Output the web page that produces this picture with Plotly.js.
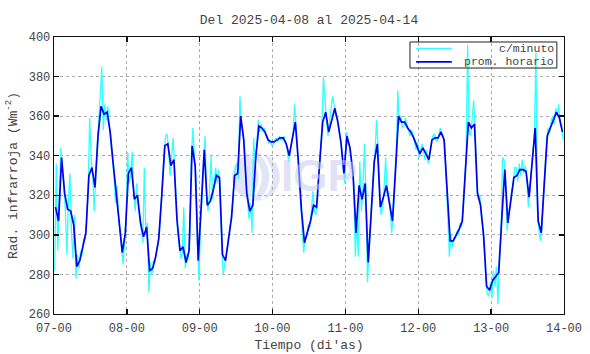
<!DOCTYPE html>
<html><head><meta charset="utf-8">
<script src="https://cdn.plot.ly/plotly-3.0.1.min.js"></script>
<style>html,body{margin:0;padding:0;background:#fff}#chart{width:590px;height:354px}</style>
</head><body><div id="chart"></div>
<script>
const dayTickLabels = ['07-00','08-00','09-00','10-00','11-00','12-00','13-00','14-00'];
const seriesNames = ['c/minuto', 'prom. horario'];

// hourly mean (prom. horario), W m^-2, from 2025-04-07 00h
const hourlyMean = [
 314,307,339,321,313,312,305,284,287,294,301,330,334,324,350,365,361,362,352,336,320,305,291,301,
 331,334,318,320,306,299,304,282,283,289,298,320,345,346,335,338,308,292,294,286,292,345,335,287,
 312,343,315,317,323,330,329,290,287,298,309,330,331,360,348,321,312,315,340,355,354,352,348,347,
 347,348,349,349,346,340,348,357,337,313,296,302,307,315,314,336,357,362,352,358,364,357,347,331,
 350,344,331,301,325,318,326,286,312,337,346,314,319,325,316,307,333,360,357,357,354,352,349,345,
 341,344,341,338,348,349,349,352,348,321,297,297,300,303,307,333,357,354,356,321,315,300,274,272,
 277,279,281,308,333,306,318,329,330,333,333,332,319,337,354,307,301,326,350,354,358,362,359,352
];

// per-minute record (c/minuto), sampled twice per hour
const minuteSample = [
 282,336,292,318,344,332,326,312,290,318,331,302,288,310,278,290,283,292,290,298,298,306,322,359,
 338,330,312,330,345,358,372,385,353,366,358,365,355,346,340,330,316,325,310,300,294,285,296,308,
 342,326,330,342,322,312,326,314,310,302,296,334,300,306,271,286,280,287,286,292,295,302,316,328,
 340,350,351,342,330,340,349,334,318,300,296,288,290,314,283,290,288,300,340,354,340,330,296,277,
 305,318,338,350,320,312,322,340,318,328,334,326,333,324,294,280,284,290,295,302,306,314,326,334,
 336,328,370,356,352,344,326,316,308,316,301,349,336,344,358,352,356,352,354,350,350,346,348,345,
 346,348,349,347,350,348,348,350,347,344,337,342,346,351,366,354,342,332,318,306,291,298,299,305,
 304,311,322,312,310,318,332,340,354,380,366,358,350,356,362,370,366,360,360,354,350,344,335,326,
 352,346,346,340,334,326,289,306,289,337,312,322,346,322,276,292,306,318,332,342,358,344,320,310,
 314,324,339,320,322,312,301,310,328,340,373,356,360,354,355,359,356,352,350,353,351,347,343,347,
 339,343,346,342,338,343,336,340,346,350,351,348,347,351,354,350,350,345,326,316,289,300,294,299,
 298,302,300,306,304,312,328,340,396,352,350,358,368,352,326,318,320,310,304,296,278,270,269,276,
 268,282,274,284,265,290,300,339,338,328,302,312,314,322,326,334,334,327,336,330,338,331,335,329,
 314,324,333,342,350,392,312,302,297,304,320,332,347,354,352,357,360,356,364,360,366,356,354,348
];

const hourX = hourlyMean.map((_, i) => i + 0.5);
const minuteX = minuteSample.map((_, k) => k * 0.5 + 0.25);
const tickVals = dayTickLabels.map((_, d) => d * 24);

const FONT = "'Liberation Mono', 'Courier New', monospace";
const TXT = '#444';
const CYAN = '#33ffff', BLUE = '#0000f0';

const traces = [
  {x: minuteX, y: minuteSample, type: 'scatter', mode: 'lines',
   name: seriesNames[0], line: {color: CYAN, width: 1.3}},
  {x: hourX, y: hourlyMean, type: 'scatter', mode: 'lines',
   name: seriesNames[1], line: {color: BLUE, width: 1.7}}
];

const axisCommon = {
  showline: true, linecolor: '#111', linewidth: 1.3, mirror: 'ticks',
  ticks: 'inside', ticklen: 5, tickcolor: '#111', tickwidth: 1.3,
  showgrid: true, gridcolor: '#aaaaaa', griddash: 'dot', gridwidth: 1,
  zeroline: false, tickfont: {family: FONT, size: 12, color: TXT}
};

// watermark globe (paper coords)
const gc = {x: 0.396, y: 0.495, rx: 0.047, ry: 0.0866};
function arc(k) {
  const x0 = gc.x + k * gc.rx, top = gc.y + gc.ry * 0.93, bot = gc.y - gc.ry * 0.93;
  return `M ${x0},${top} Q ${gc.x + (k + 0.75) * gc.rx},${gc.y} ${x0},${bot}`;
}

// legend box drawn as chrome (pixel-matched to the reference)
const lg = {x0: 0.698, x1: 0.986, y0: 0.888, y1: 0.982, sx0: 0.710, sx1: 0.780, tx: 0.982, r1: 0.9585, r2: 0.910};

const layout = {
  width: 590, height: 354,
  margin: {l: 54, r: 26, t: 37, b: 40},
  paper_bgcolor: '#fff', plot_bgcolor: '#fff',
  font: {family: FONT, size: 12, color: TXT},
  showlegend: false,
  title: {text: 'Del 2025-04-08 al 2025-04-14', font: {family: FONT, size: 13, color: TXT},
          x: 0.5, xref: 'paper', xanchor: 'center', y: 0.946, yref: 'container', yanchor: 'middle'},
  xaxis: Object.assign({}, axisCommon, {
    range: [0, 168], tickmode: 'array', tickvals: tickVals, ticktext: dayTickLabels,
    ticklabelstandoff: 2,
    title: {text: "Tiempo (di'as)", font: {family: FONT, size: 13, color: TXT}, standoff: 5}
  }),
  yaxis: Object.assign({}, axisCommon, {
    range: [260, 400], dtick: 20, tick0: 260,
    title: {text: 'Rad. infrarroja (Wm<sup>-2</sup>)', font: {family: FONT, size: 13, color: TXT}, standoff: 8}
  }),
  shapes: [
    {type: 'circle', xref: 'paper', yref: 'paper', layer: 'below',
     x0: gc.x - gc.rx, x1: gc.x + gc.rx, y0: gc.y - gc.ry, y1: gc.y + gc.ry,
     fillcolor: '#e2e5f7', line: {width: 0}},
    {type: 'path', xref: 'paper', yref: 'paper', layer: 'below', path: arc(-0.2), line: {color: '#ffffff', width: 3}},
    {type: 'path', xref: 'paper', yref: 'paper', layer: 'below', path: arc(0.25), line: {color: '#ffffff', width: 3}},
    {type: 'rect', xref: 'paper', yref: 'paper', x0: lg.x0, x1: lg.x1, y0: lg.y0, y1: lg.y1,
     line: {color: '#222', width: 1}, fillcolor: 'rgba(0,0,0,0)'},
    {type: 'line', xref: 'paper', yref: 'paper', x0: lg.sx0, x1: lg.sx1, y0: lg.r1, y1: lg.r1,
     line: {color: CYAN, width: 1.3}},
    {type: 'line', xref: 'paper', yref: 'paper', x0: lg.sx0, x1: lg.sx1, y0: lg.r2, y1: lg.r2,
     line: {color: BLUE, width: 1.7}}
  ],
  annotations: [
    {text: '<b>IGP</b>', xref: 'paper', yref: 'paper', x: 0.52, y: 0.5,
     xanchor: 'center', yanchor: 'middle', showarrow: false,
     font: {family: "'Liberation Sans', Arial, sans-serif", size: 44, color: 'rgba(200,200,242,0.55)'}},
    {text: seriesNames[0], xref: 'paper', yref: 'paper', x: lg.tx, y: lg.r1,
     xanchor: 'right', yanchor: 'middle', showarrow: false, borderpad: 0,
     font: {family: FONT, size: 11.5, color: TXT}},
    {text: seriesNames[1], xref: 'paper', yref: 'paper', x: lg.tx, y: lg.r2,
     xanchor: 'right', yanchor: 'middle', showarrow: false, borderpad: 0,
     font: {family: FONT, size: 11.5, color: TXT}}
  ]
};

Plotly.newPlot('chart', traces, layout, {displayModeBar: false, staticPlot: true});
</script></body></html>
